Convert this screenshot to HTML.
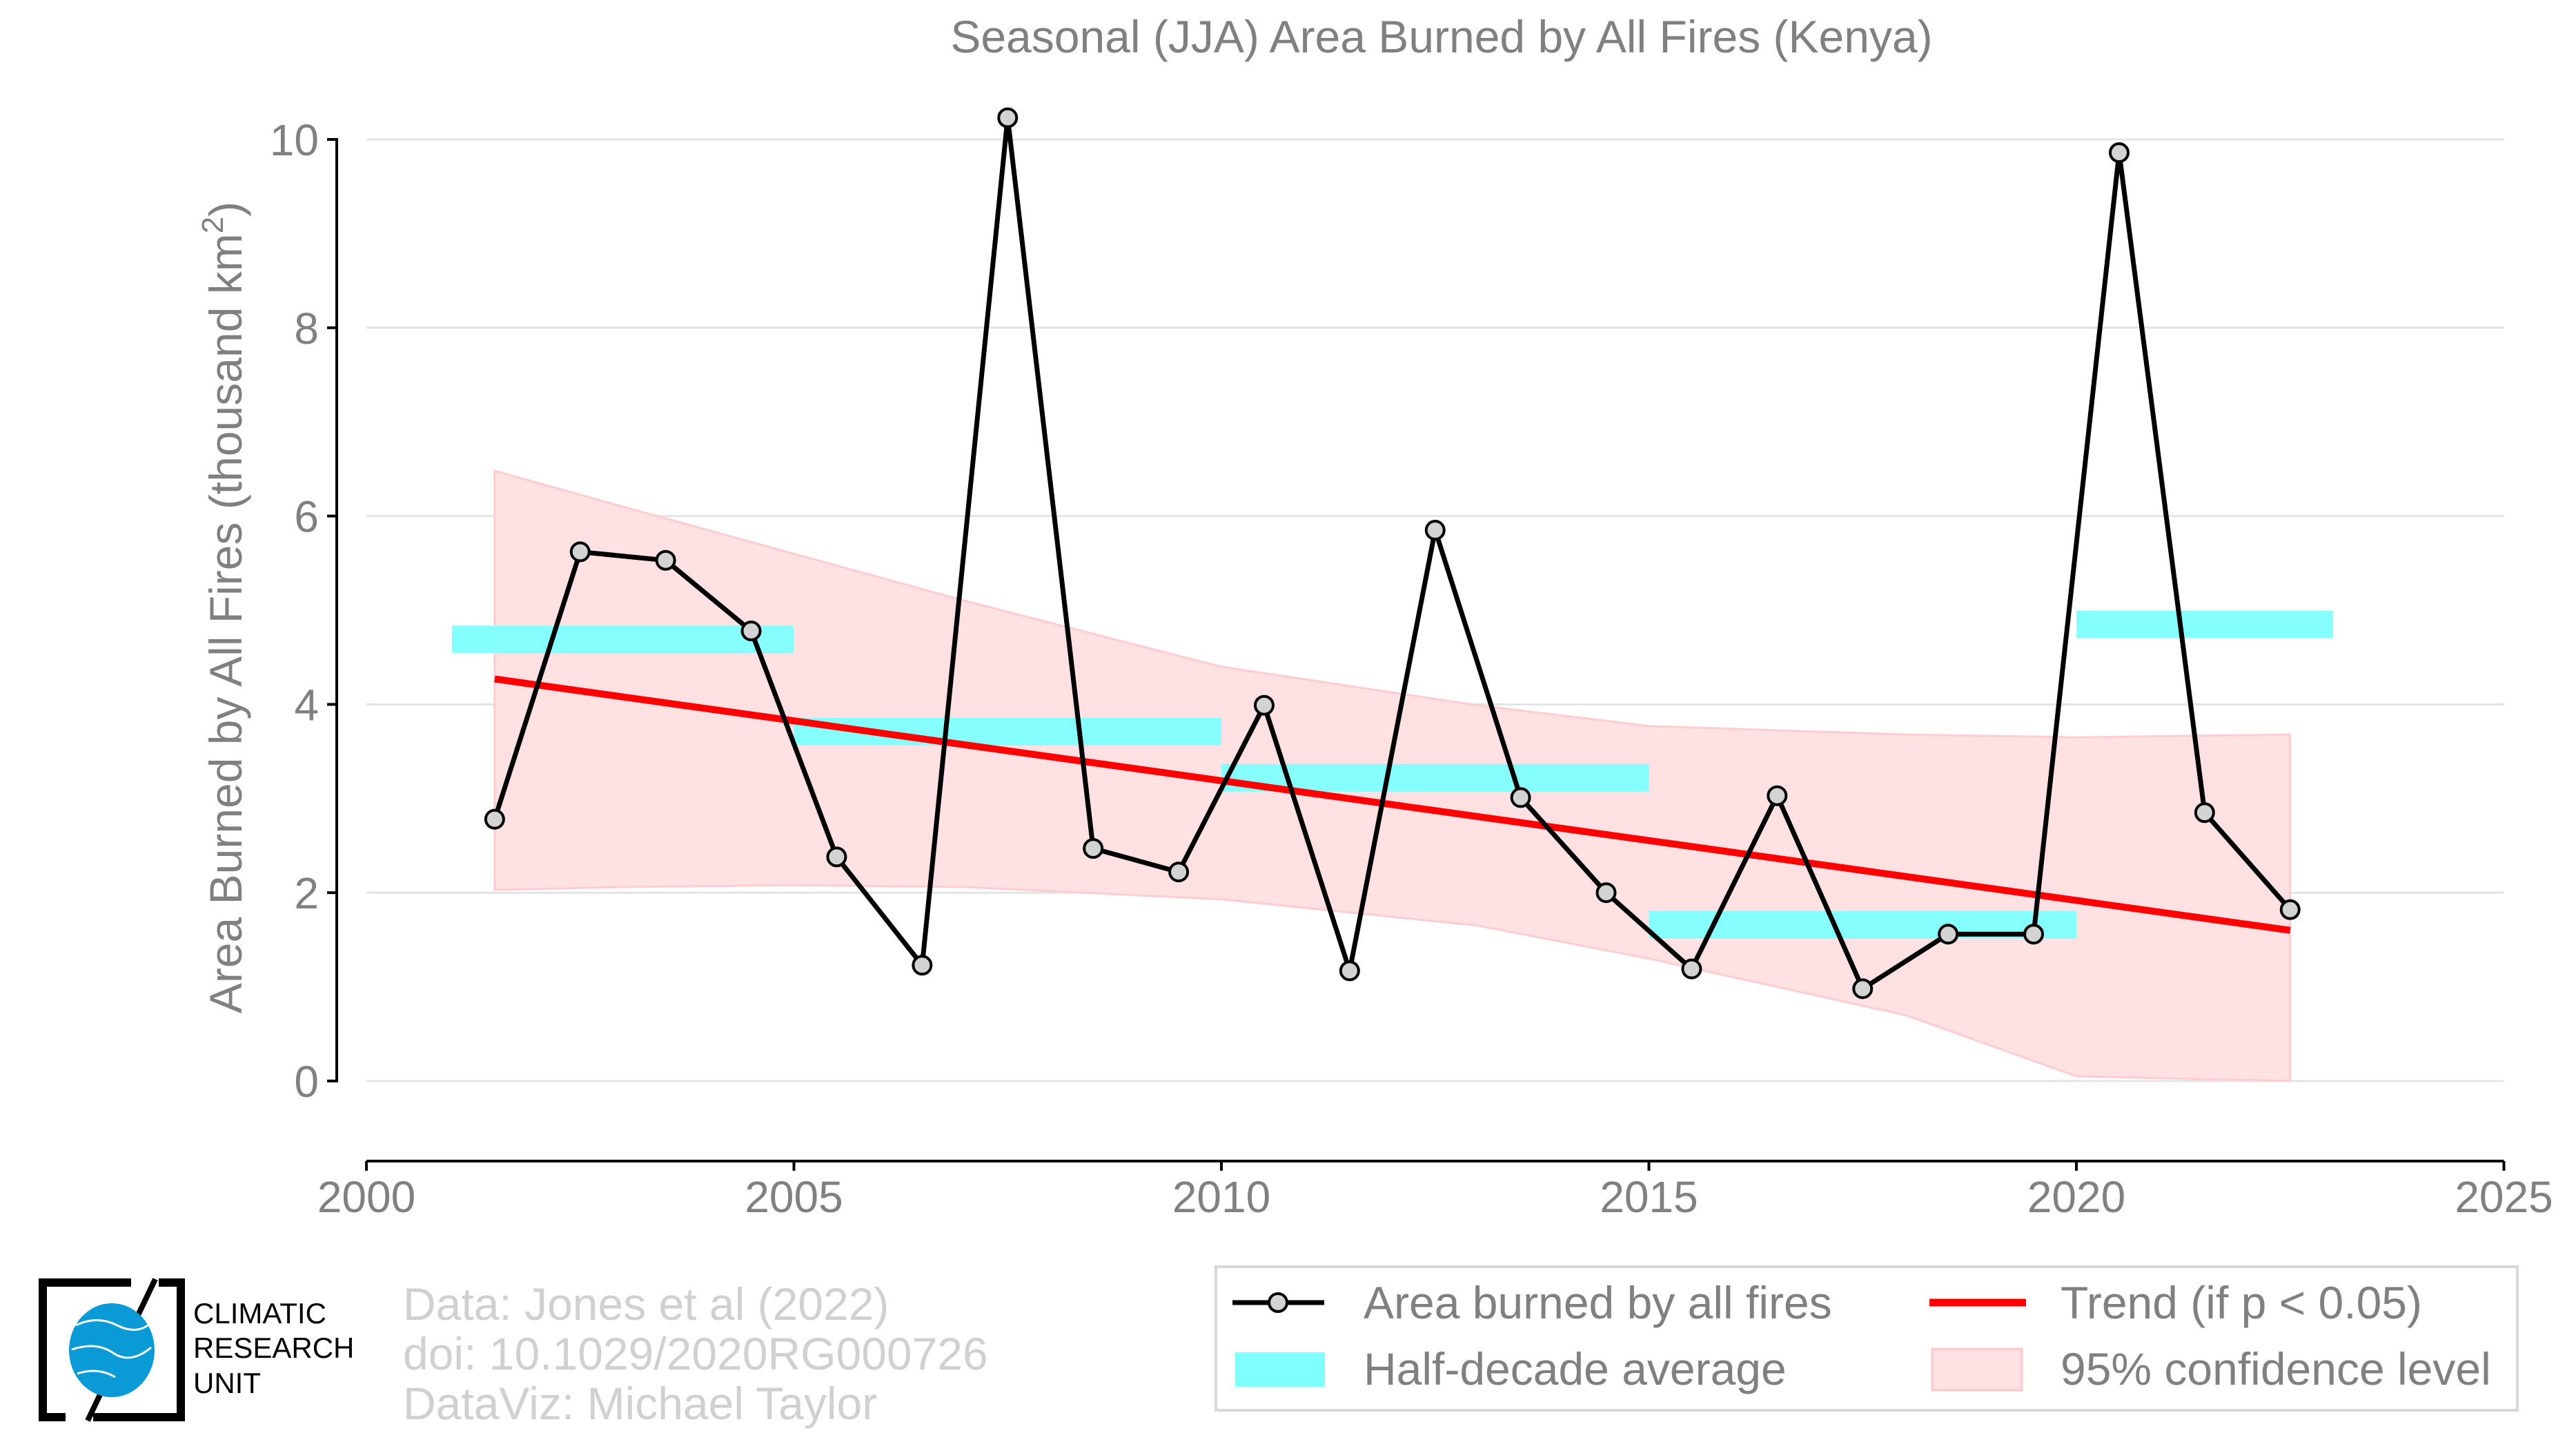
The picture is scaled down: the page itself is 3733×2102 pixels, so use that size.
<!DOCTYPE html>
<html><head><meta charset="utf-8"><style>html,body{margin:0;padding:0;background:#fff}svg{display:block}text{font-family:"Liberation Sans",sans-serif}</style></head>
<body>
<svg id="chart" width="3733" height="2102" viewBox="0 0 3733 2102" xmlns="http://www.w3.org/2000/svg">
<text x="2089" y="76" font-size="66" fill="#808080" text-anchor="middle">Seasonal (JJA) Area Burned by All Fires (Kenya)</text>
<g id="grid"></g>
<g id="ci"></g>
<g id="bars"></g>
<g id="trend"></g>
<g id="series"></g>
<g id="axes"></g>
<text transform="translate(350,880) rotate(-90)" font-size="66" fill="#808080" text-anchor="middle">Area Burned by All Fires (thousand km<tspan font-size="44" dy="-27">2</tspan><tspan dy="27">)</tspan></text>
<g>
<path d="M62,1858 h200 v195 h-200 z" fill="none" stroke="#000" stroke-width="12"/>
<rect x="190" y="1850" width="40" height="25" fill="#fff"/>
<rect x="95" y="2035" width="40" height="25" fill="#fff"/>
<line x1="225" y1="1853" x2="127" y2="2058" stroke="#000" stroke-width="8"/>
<ellipse cx="162" cy="1956" rx="62" ry="68" fill="#0a9ad6"/>
<path d="M110,1920 q30,-15 60,0 t50,-5 M104,1955 q35,-12 60,5 t55,-8 M112,1990 q30,-10 55,5" stroke="#fff" stroke-width="3" fill="none"/>
<text x="280" y="1917" font-size="42" fill="#000">CLIMATIC</text>
<text x="280" y="1967" font-size="42" fill="#000">RESEARCH</text>
<text x="280" y="2018" font-size="42" fill="#000">UNIT</text>
</g>
<g font-size="66" fill="#d0d0d0">
<text x="584" y="1912">Data: Jones et al (2022)</text>
<text x="584" y="1984">doi: 10.1029/2020RG000726</text>
<text x="584" y="2056">DataViz: Michael Taylor</text>
</g>
<g transform="translate(-9,-8)">
<rect x="1771" y="1843" width="1886" height="208" fill="#fff" stroke="#d8d8d8" stroke-width="4"/>
<g>
<line x1="1795" y1="1895" x2="1928" y2="1895" stroke="#000" stroke-width="7"/>
<circle cx="1861" cy="1895" r="13" fill="#d3d3d3" stroke="#000" stroke-width="4"/>
<text x="1985" y="1918" font-size="66" fill="#808080">Area burned by all fires</text></g>
<g>
<line x1="2805" y1="1895" x2="2945" y2="1895" stroke="#ff0000" stroke-width="11"/>
<text x="2995" y="1918" font-size="66" fill="#808080">Trend (if p &lt; 0.05)</text></g>
<g>
<rect x="1799" y="1967" width="130" height="50" fill="#80ffff"/>
<text x="1985" y="2014" font-size="66" fill="#808080">Half-decade average</text></g>
<g>
<rect x="2809" y="1962" width="130" height="60" fill="#ffe0e3" stroke="#ffc8cc" stroke-width="3"/>
<text x="2995" y="2014" font-size="66" fill="#808080">95% confidence level</text></g>
</g>
</svg>
<script>
const years=[2001.5,2002.5,2003.5,2004.5,2005.5,2006.5,2007.5,2008.5,2009.5,2010.5,2011.5,2012.5,2013.5,2014.5,2015.5,2016.5,2017.5,2018.5,2019.5,2020.5,2021.5,2022.5];
const values=[2.78,5.62,5.53,4.78,2.38,1.23,10.23,2.47,2.22,3.99,1.17,5.85,3.01,2.00,1.19,3.03,0.98,1.56,1.56,9.86,2.85,1.82];
const halfStart=[2001,2005,2010,2015,2020];
const halfEnd=[2005,2010,2015,2020,2023];
const halfVals=[4.69,3.71,3.22,1.66,4.85];
const trendX=[2001.5,2022.5];
const trendY=[4.27,1.60];
const ciX=[2001.5,2003,2005,2007,2010,2013,2015,2018,2020,2022.5];
const ciUpper=[6.48,6.1,5.6,5.1,4.4,3.99,3.77,3.68,3.65,3.68];
const ciLower=[2.03,2.06,2.08,2.06,1.93,1.65,1.3,0.7,0.05,0.0];
const yTicks=[0,2,4,6,8,10];
const xTicks=[2000,2005,2010,2015,2020,2025];
const NS="http://www.w3.org/2000/svg";
const X=v=>531+(v-2000)*123.9, Y=v=>1566-v*136.4;
function mk(tag,attrs,parent){const e=document.createElementNS(NS,tag);for(const k in attrs)e.setAttribute(k,attrs[k]);document.getElementById(parent).appendChild(e);return e;}
yTicks.forEach(t=>{
 const g=mk('line',{x1:531,x2:X(2025),y1:Y(t),y2:Y(t),stroke:'#e4e4e4','stroke-width':3},'grid');
 
 
 const tk=mk('line',{x1:474,x2:490,y1:Y(t),y2:Y(t),stroke:'#000','stroke-width':4},'axes');
 
 
 const l=mk('text',{x:462,y:Y(t)+23,'font-size':64,fill:'#808080','text-anchor':'end'},'axes');l.textContent=t;
 
 
});
const ya=mk('line',{x1:488,x2:488,y1:Y(10),y2:Y(0),stroke:'#000','stroke-width':4},'axes');


const xa=mk('line',{x1:531,x2:X(2025),y1:1682,y2:1682,stroke:'#000','stroke-width':4},'axes');


xTicks.forEach(t=>{
 const tk=mk('line',{x1:X(t),x2:X(t),y1:1682,y2:1696,stroke:'#000','stroke-width':4},'axes');
 
 
 const l=mk('text',{x:X(t),y:1756,'font-size':64,fill:'#808080','text-anchor':'middle'},'axes');l.textContent=t;
 
 
});
let d='';ciX.forEach((x,i)=>d+=(i?'L':'M')+X(x)+','+Y(ciUpper[i]));
for(let i=ciX.length-1;i>=0;i--)d+='L'+X(ciX[i])+','+Y(ciLower[i]);
const ci=mk('path',{d:d+'Z',fill:'#ffe0e3',stroke:'#ffcdd1','stroke-width':3},'ci');


halfVals.forEach((v,i)=>{
 const r=mk('rect',{x:X(halfStart[i]),y:Y(v)-20,width:X(halfEnd[i])-X(halfStart[i]),height:40,fill:'#80ffff','fill-opacity':0.95},'bars');
 
 
});
const tr=mk('line',{x1:X(trendX[0]),y1:Y(trendY[0]),x2:X(trendX[1]),y2:Y(trendY[1]),stroke:'#ff0000','stroke-width':10},'trend');


const pl=mk('polyline',{points:years.map((y,i)=>X(y)+','+Y(values[i])).join(' '),fill:'none',stroke:'#000','stroke-width':7,'stroke-linejoin':'round'},'series');


years.forEach((y,i)=>{
 const c=mk('circle',{cx:X(y),cy:Y(values[i]),r:13,fill:'#d3d3d3',stroke:'#000','stroke-width':4},'series');
 
 
});
</script>
</body></html>
